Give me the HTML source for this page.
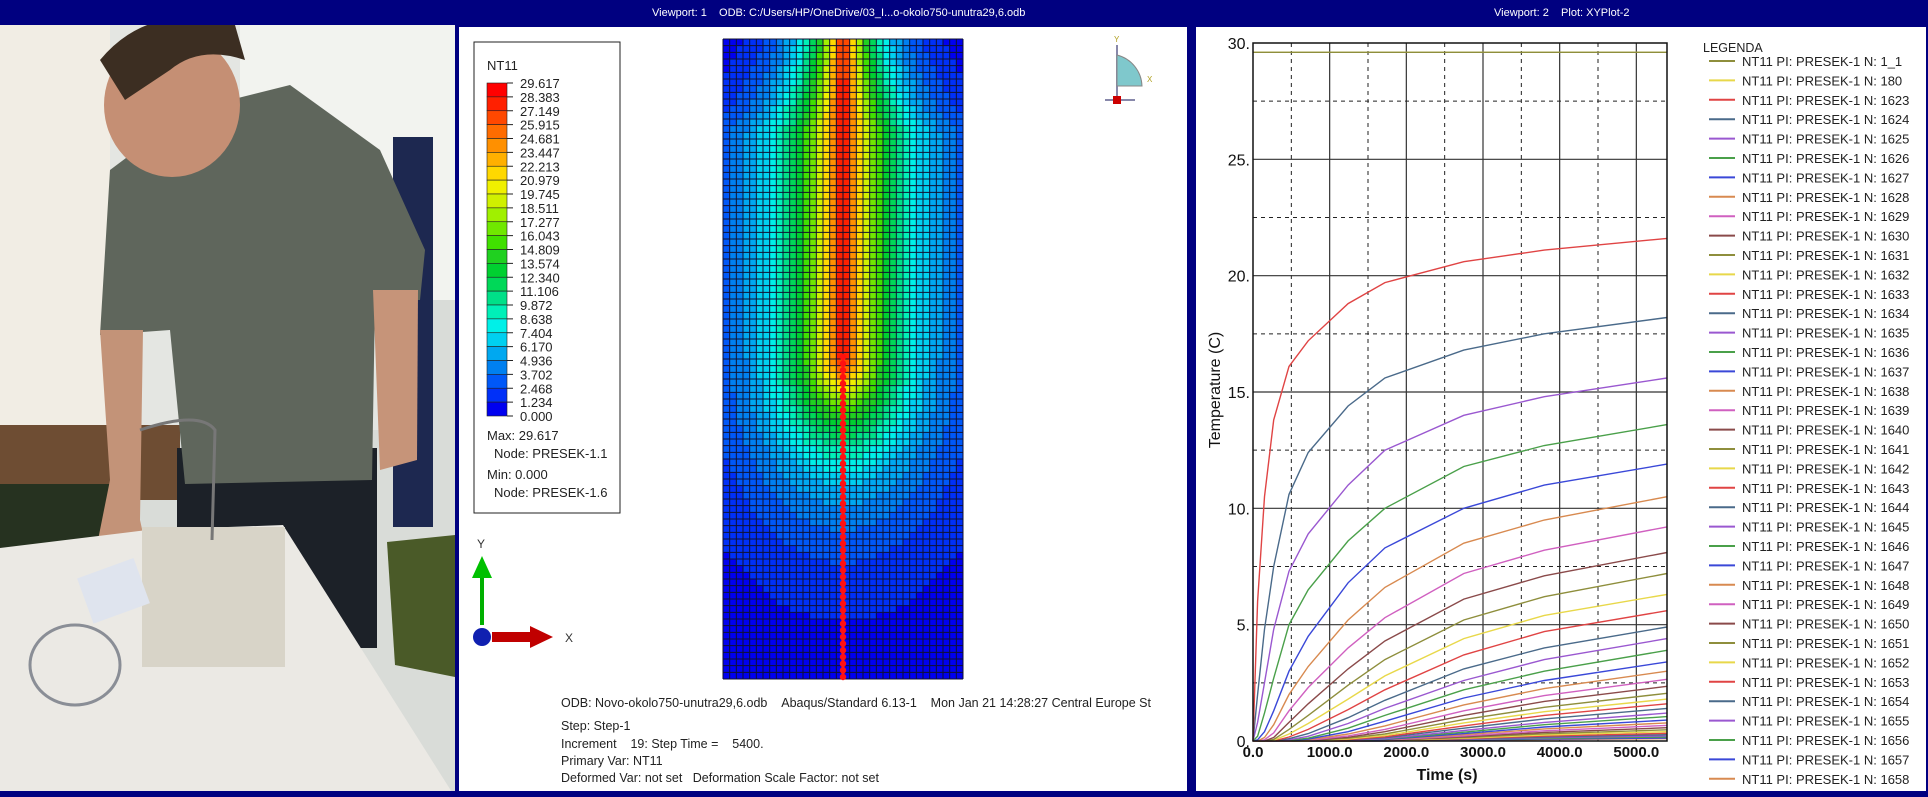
<!DOCTYPE html>
<html><head><meta charset="utf-8">
<style>
html,body{margin:0;padding:0;background:#000080;}
#root{position:relative;width:1928px;height:797px;overflow:hidden;background:#000080;font-family:"Liberation Sans",sans-serif;}
svg text{font-family:"Liberation Sans",sans-serif;}
</style></head>
<body>
<div id="root">
<svg id="svg" width="1928" height="797" viewBox="0 0 1928 797" xmlns="http://www.w3.org/2000/svg">
  <g>
    <rect x="0" y="0" width="455" height="797" fill="#d9dcd8"/>
    <rect x="110" y="0" width="300" height="430" fill="#e4e6e2"/>
    <rect x="240" y="0" width="215" height="300" fill="#f2f3ef"/>
    <rect x="0" y="0" width="110" height="425" fill="#f1ede4"/>
    <rect x="0" y="425" width="180" height="75" fill="#6e4d33"/>
    <rect x="393" y="137" width="40" height="390" fill="#1d2850"/>
    <rect x="0" y="484" width="117" height="64" fill="#263220"/>
    <rect x="177" y="448" width="200" height="200" fill="#1c2128"/>
    <path d="M110 170 L190 110 L290 85 L380 150 L425 250 L420 300 L375 300 L372 480 L185 484 L170 330 L100 335 Z" fill="#5f665c"/>
    <path d="M100 330 L143 330 L140 520 L150 565 L95 555 L110 480 Z" fill="#c39378"/>
    <path d="M373 290 L418 290 L417 460 L380 470 Z" fill="#c69479"/>
    <ellipse cx="172" cy="105" rx="68" ry="72" fill="#c58f74"/>
    <path d="M100 60 Q150 0 235 25 L245 60 Q200 45 170 70 L125 100 Z" fill="#3c2e22"/>
    <path d="M387 542 L455 535 L455 677 L395 665 Z" fill="#4a5a28"/>
    <path d="M0 548 L147 530 L283 525 L455 797 L0 797 Z" fill="#ebe9e4"/>
    <rect x="142" y="527" width="143" height="140" fill="#d8d4c8"/>
    <rect x="83" y="568" width="60" height="48" fill="#dfe4ee" transform="rotate(-20 110 590)"/>
    <path d="M140 430 Q200 410 215 430 L212 540" stroke="#777" stroke-width="3" fill="none"/>
    <ellipse cx="75" cy="665" rx="45" ry="40" stroke="#8a8e96" stroke-width="3" fill="none"/>
  </g>

  <rect x="0" y="0" width="1928" height="25" fill="#000080"/>
  <text x="652" y="16" font-size="11" fill="#ffffff">Viewport: 1&#160;&#160;&#160;&#160;ODB: C:/Users/HP/OneDrive/03_I...o-okolo750-unutra29,6.odb</text>
  <text x="1494" y="16" font-size="11" fill="#ffffff">Viewport: 2&#160;&#160;&#160;&#160;Plot: XYPlot-2</text>

  <rect x="459" y="27" width="728" height="764" fill="#ffffff"/>
  <g id="contourLegend">
    <rect x="474" y="42" width="146" height="471" fill="#ffffff" stroke="#222" stroke-width="1"/>
    <text x="487" y="70" font-size="13" fill="#222">NT11</text>
  </g>
  <g id="mesh"></g>
  <g>
    <line x1="482" y1="625" x2="482" y2="575" stroke="#00b000" stroke-width="4"/>
    <polygon points="472,578 492,578 482,556" fill="#00c000"/>
    <text x="477" y="548" font-size="12" fill="#333">Y</text>
    <rect x="492" y="632" width="40" height="10" fill="#c00000"/>
    <polygon points="530,626 530,648 553,637" fill="#c00000"/>
    <circle cx="482" cy="637" r="9" fill="#1020b0"/>
    <text x="565" y="642" font-size="12" fill="#333">X</text>
  </g>
  <g>
    <line x1="1117" y1="45" x2="1117" y2="100" stroke="#8888aa" stroke-width="2"/>
    <path d="M1117 55 A33 33 0 0 1 1142 86 L1117 86 Z" fill="#7fc8cc" stroke="#888" stroke-width="1"/>
    <line x1="1105" y1="100" x2="1135" y2="100" stroke="#8888aa" stroke-width="2"/>
    <rect x="1113" y="96" width="8" height="8" fill="#cc0000"/>
    <text x="1114" y="42" font-size="8" fill="#b0a020">Y</text>
    <text x="1147" y="82" font-size="8" fill="#b0a020">X</text>
  </g>
  <g font-size="12.5" fill="#222">
    <text x="561" y="707">ODB: Novo-okolo750-unutra29,6.odb&#160;&#160;&#160;&#160;Abaqus/Standard 6.13-1&#160;&#160;&#160;&#160;Mon Jan 21 14:28:27 Central Europe St</text>
    <text x="561" y="730">Step: Step-1</text>
    <text x="561" y="748">Increment&#160;&#160;&#160;&#160;19: Step Time =&#160;&#160;&#160;&#160;5400.</text>
    <text x="561" y="765">Primary Var: NT11</text>
    <text x="561" y="782">Deformed Var: not set&#160;&#160;&#160;Deformation Scale Factor: not set</text>
  </g>
  <rect x="1187" y="25" width="9" height="772" fill="#000080"/>

  <rect x="1196" y="27" width="730" height="764" fill="#ffffff"/>
  <g id="grid"></g>
  <g id="series"></g>
  <g id="axes"></g>
  <g id="legend">
    <text x="1703" y="52" font-size="12.5" fill="#222">LEGENDA</text>
  </g>
  <rect x="0" y="791" width="1928" height="6" fill="#000080"/>
</svg>
</div>
<script>
const times = [0, 60, 150, 270, 470, 720, 1240, 1720, 2750, 3800, 5400];
const yTicks = [0, 5, 10, 15, 20, 25, 30];
const yTickLabels = ["0.", "5.", "10.", "15.", "20.", "25.", "30."];
const xTicks = [0, 1000, 2000, 3000, 4000, 5000];
const xTickLabels = ["0.0", "1000.0", "2000.0", "3000.0", "4000.0", "5000.0"];
const nodeLabels = ["1_1","180","1623","1624","1625","1626","1627","1628","1629","1630","1631","1632","1633","1634","1635","1636","1637","1638","1639","1640","1641","1642","1643","1644","1645","1646","1647","1648","1649","1650","1651","1652","1653","1654","1655","1656","1657","1658"];
const seriesColors = ["#8e8e3c","#e8d84a","#e04444","#4a6a8a","#9a58d0","#4aa04a","#3a48d8","#d88a50","#d060c0","#8a4a4a"];
const s1_1 = [29.6,29.6,29.6,29.6,29.6,29.6,29.6,29.6,29.6,29.6,29.6];
const s180 = [29.6,29.6,29.6,29.6,29.6,29.6,29.6,29.6,29.6,29.6,29.6];
const s1623 = [0,6,10.5,13.8,16.1,17.2,18.8,19.7,20.6,21.1,21.6];
const s1624 = [0,2,4.8,7.5,10.6,12.4,14.4,15.6,16.8,17.5,18.2];
const s1625 = [0,0.8,2.5,4.8,7.3,8.9,11.0,12.5,14.0,14.8,15.6];
const s1626 = [0,0.2,1.2,2.7,5.0,6.5,8.6,10.0,11.8,12.7,13.6];
const s1627 = [0,0.05,0.4,1.3,3.0,4.5,6.8,8.3,10.0,11.0,11.9];
const s1628 = [0,0,0.15,0.7,2.0,3.2,5.2,6.6,8.5,9.5,10.5];
const s1629 = [0,0,0.05,0.35,1.3,2.3,4.0,5.3,7.2,8.2,9.2];
const s1630 = [0,0,0,0.15,0.8,1.6,3.1,4.3,6.1,7.1,8.1];
const s1631 = [0,0,0,0.07,0.5,1.1,2.4,3.5,5.2,6.2,7.2];
const s1632 = [0,0,0,0.03,0.3,0.75,1.8,2.8,4.4,5.4,6.3];
const s1633 = [0,0,0,0,0.17,0.5,1.35,2.2,3.7,4.7,5.6];
const s1634 = [0,0,0,0,0.1,0.32,1.0,1.75,3.1,4.0,4.9];
const s1635 = [0,0,0,0,0.05,0.2,0.75,1.4,2.6,3.5,4.4];
const s1636 = [0,0,0,0,0.03,0.12,0.55,1.1,2.2,3.0,3.9];
const s1637 = [0,0,0,0,0.02,0.08,0.4,0.85,1.85,2.6,3.4];
const s1638 = [0,0,0,0,0,0.05,0.3,0.65,1.55,2.25,3.0];
const s1639 = [0,0,0,0,0,0.03,0.22,0.5,1.3,1.95,2.65];
const s1640 = [0,0,0,0,0,0.02,0.16,0.4,1.1,1.7,2.35];
const s1641 = [0,0,0,0,0,0.01,0.12,0.3,0.92,1.45,2.05];
const s1642 = [0,0,0,0,0,0,0.09,0.23,0.78,1.26,1.8];
const s1643 = [0,0,0,0,0,0,0.06,0.18,0.65,1.1,1.6];
const s1644 = [0,0,0,0,0,0,0.05,0.14,0.55,0.95,1.4];
const s1645 = [0,0,0,0,0,0,0.03,0.1,0.45,0.8,1.2];
const s1646 = [0,0,0,0,0,0,0.02,0.08,0.38,0.7,1.05];
const s1647 = [0,0,0,0,0,0,0.015,0.06,0.32,0.6,0.9];
const s1648 = [0,0,0,0,0,0,0.01,0.045,0.27,0.52,0.78];
const s1649 = [0,0,0,0,0,0,0.008,0.035,0.22,0.44,0.67];
const s1650 = [0,0,0,0,0,0,0.006,0.027,0.18,0.37,0.57];
const s1651 = [0,0,0,0,0,0,0.004,0.02,0.15,0.31,0.48];
const s1652 = [0,0,0,0,0,0,0.003,0.015,0.12,0.26,0.4];
const s1653 = [0,0,0,0,0,0,0.002,0.011,0.1,0.21,0.33];
const s1654 = [0,0,0,0,0,0,0.001,0.008,0.08,0.17,0.27];
const s1655 = [0,0,0,0,0,0,0,0.006,0.06,0.14,0.22];
const s1656 = [0,0,0,0,0,0,0,0.004,0.05,0.11,0.17];
const s1657 = [0,0,0,0,0,0,0,0.003,0.04,0.08,0.13];
const s1658 = [0,0,0,0,0,0,0,0.002,0.03,0.06,0.1];
const allSeries = [s1_1,s180,s1623,s1624,s1625,s1626,s1627,s1628,s1629,s1630,s1631,s1632,s1633,s1634,s1635,s1636,s1637,s1638,s1639,s1640,s1641,s1642,s1643,s1644,s1645,s1646,s1647,s1648,s1649,s1650,s1651,s1652,s1653,s1654,s1655,s1656,s1657,s1658];
const contourLabels = ["29.617","28.383","27.149","25.915","24.681","23.447","22.213","20.979","19.745","18.511","17.277","16.043","14.809","13.574","12.340","11.106","9.872","8.638","7.404","6.170","4.936","3.702","2.468","1.234","0.000"];
const bandColors = ["#0000f0","#0030f8","#0058f8","#0080f0","#00a8f0","#00d0f0","#00f0e8","#00f0b8","#00e088","#00d858","#00d030","#20d020","#40e000","#70e800","#a0f000","#d0f000","#f0f000","#ffd800","#ffb000","#ff9000","#ff6c00","#ff4800","#ff2000","#ff0000"];

const NS = "http://www.w3.org/2000/svg";
function mk(tag, attrs, parent) {
  const e = document.createElementNS(NS, tag);
  for (const k in attrs) e.setAttribute(k, attrs[k]);
  parent.appendChild(e);
  return e;
}
const X0 = 1253, X1 = 1667, Y0 = 741, Y1 = 43, TMAX = 5400, VMAX = 30;
function xs(t) { return X0 + t / TMAX * (X1 - X0); }
function ys(v) { return Y0 - v / VMAX * (Y0 - Y1); }

const grid = document.getElementById('grid');
for (let t = 500; t < TMAX; t += 500) {
  const major = t % 1000 === 0;
  const l = mk('line', {x1: xs(t), x2: xs(t), y1: Y1, y2: Y0, stroke: major ? '#333' : '#222', 'stroke-width': major ? 1.2 : 1, 'stroke-dasharray': major ? '' : '4,4'}, grid);
  
  
}
for (let v = 2.5; v < VMAX; v += 2.5) {
  const major = v % 5 === 0;
  const l = mk('line', {x1: X0, x2: X1, y1: ys(v), y2: ys(v), stroke: major ? '#333' : '#222', 'stroke-width': major ? 1.2 : 1, 'stroke-dasharray': major ? '' : '4,4'}, grid);
  
  
}

const sg = document.getElementById('series');
for (let i = allSeries.length - 1; i >= 0; i--) {
  const vals = allSeries[i];
  const pts = vals.map((v, j) => xs(times[j]).toFixed(1) + ',' + ys(v).toFixed(1)).join(' ');
  const p = mk('polyline', {points: pts, fill: 'none', stroke: seriesColors[i % 10], 'stroke-width': 1.4}, sg);
  
  
}

const ax = document.getElementById('axes');
const frame = mk('rect', {x: X0, y: Y1, width: X1 - X0, height: Y0 - Y1, fill: 'none', stroke: '#111', 'stroke-width': 1.5}, ax);


yTicks.forEach((v, i) => {
  const t = mk('text', {x: X0 - 3, y: ys(v) + 6, 'font-size': 16, 'text-anchor': 'end', fill: '#111'}, ax);
  t.textContent = yTickLabels[i];
  
  
});
xTicks.forEach((v, i) => {
  const t = mk('text', {x: xs(v), y: 757, 'font-size': 15, 'text-anchor': 'middle', fill: '#111', 'font-weight': 'bold'}, ax);
  t.textContent = xTickLabels[i];
  
  
});
const xt = mk('text', {x: 1447, y: 780, 'font-size': 16, 'text-anchor': 'middle', 'font-weight': 'bold', fill: '#111'}, ax);
xt.textContent = 'Time (s)';


const yt = mk('text', {x: 0, y: 0, 'font-size': 16, 'text-anchor': 'middle', fill: '#111', transform: 'translate(1220,390) rotate(-90)'}, ax);
yt.textContent = 'Temperature (C)';



const lg = document.getElementById('legend');
nodeLabels.forEach((n, i) => {
  const y = 61 + i * 19.4;
  const g = mk('g', {}, lg);
  
  
  mk('line', {x1: 1709, x2: 1735, y1: y, y2: y, stroke: seriesColors[i % 10], 'stroke-width': 2}, g);
  const t = mk('text', {x: 1742, y: y + 5, 'font-size': 13, fill: '#222'}, g);
  t.textContent = 'NT11 PI: PRESEK-1 N: ' + n;
});

const cl = document.getElementById('contourLegend');
const CB_T = 83, CB_B = 416, NB = bandColors.length, bh = (CB_B - CB_T) / NB;
for (let i = 0; i < NB; i++) {
  const r = mk('rect', {x: 487, y: CB_T + i * bh, width: 20, height: bh, fill: bandColors[NB - 1 - i], stroke: '#222', 'stroke-width': 0.6}, cl);
  
  
}
contourLabels.forEach((s, i) => {
  const y = CB_T + i * bh;
  mk('line', {x1: 507, x2: 513, y1: y, y2: y, stroke: '#222'}, cl);
  const t = mk('text', {x: 520, y: y + 5, 'font-size': 13, fill: '#222'}, cl);
  t.textContent = s;
  
  
});
[['Max: 29.617', 487, 440], ['Node: PRESEK-1.1', 494, 458], ['Min: 0.000', 487, 479], ['Node: PRESEK-1.6', 494, 497]].forEach(a => {
  const t = mk('text', {x: a[1], y: a[2], 'font-size': 13, fill: '#222'}, cl);
  t.textContent = a[0];
  
  
});

const mesh = document.getElementById('mesh');
const MX0 = 723, MX1 = 963, MY0 = 39, MY1 = 679, COLS = 36, ROWS = 96;
const cw = (MX1 - MX0) / COLS, ch = (MY1 - MY0) / ROWS, cx = (MX0 + MX1) / 2, segEnd = 357;
let html = '';
for (let r = 0; r < ROWS; r++) {
  for (let c = 0; c < COLS; c++) {
    const px = MX0 + (c + 0.5) * cw, py = MY0 + (r + 0.5) * ch;
    const dx = Math.abs(px - cx);
    const top = Math.max(0, 130 - py);
    const dy = Math.max(0, py - segEnd) * 0.65;
    const dxe = dx * (1 + top * 0.008);
    const d = Math.sqrt(dxe * dxe + dy * dy);
    const T = 29.6 * Math.exp(-d / 54);
    const b = Math.min(NB - 1, Math.floor(T / 1.234));
    html += '<rect x="' + (MX0 + c * cw).toFixed(2) + '" y="' + (MY0 + r * ch).toFixed(2) + '" width="' + cw.toFixed(2) + '" height="' + ch.toFixed(2) + '" fill="' + bandColors[b] + '"/>';
  }
}
let lines = '';
for (let c = 0; c <= COLS; c++) lines += '<line x1="' + (MX0 + c * cw).toFixed(2) + '" x2="' + (MX0 + c * cw).toFixed(2) + '" y1="' + MY0 + '" y2="' + MY1 + '" stroke="#101030" stroke-width="1"/>';
for (let r = 0; r <= ROWS; r++) lines += '<line x1="' + MX0 + '" x2="' + MX1 + '" y1="' + (MY0 + r * ch).toFixed(2) + '" y2="' + (MY0 + r * ch).toFixed(2) + '" stroke="#101030" stroke-width="1"/>';
let dots = '<line x1="' + cx + '" x2="' + cx + '" y1="' + segEnd + '" y2="' + MY1 + '" stroke="#ff2020" stroke-width="3"/>';
for (let y = segEnd; y <= MY1; y += ch) dots += '<circle cx="' + cx + '" cy="' + y.toFixed(1) + '" r="3.2" fill="#ff1010"/>';
mesh.innerHTML = html + lines + dots;
</script>
</body></html>
